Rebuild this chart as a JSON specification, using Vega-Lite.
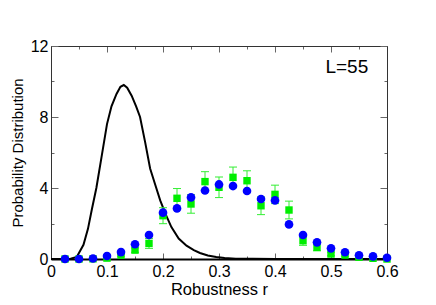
{
  "$schema": "https://vega.github.io/schema/vega-lite/v6.json",
  "width": 336,
  "height": 213,
  "autosize": {"type": "none"},
  "padding": {"left": 51, "top": 46, "right": 49, "bottom": 46},
  "config": {
    "view": {"stroke": null},
    "font": "Liberation Sans",
    "axis": {"grid": false, "labelFont": "Liberation Sans", "titleFont": "Liberation Sans", "labelColor": "black", "titleColor": "black", "titleFontWeight": "normal", "labelFontSize": 16, "titleFontSize": 15, "tickColor": "#666666", "domainColor": "#333333"}
  },
  "datasets": {
    "curve": [
      {"r": 0, "p": 0}, {"r": 0.02, "p": 0}, {"r": 0.035, "p": 0.02}, {"r": 0.046, "p": 0.12},
      {"r": 0.058, "p": 0.8}, {"r": 0.066, "p": 1.7}, {"r": 0.073, "p": 2.8}, {"r": 0.081, "p": 4.0},
      {"r": 0.09, "p": 5.7}, {"r": 0.1, "p": 7.6}, {"r": 0.108, "p": 8.6}, {"r": 0.117, "p": 9.3},
      {"r": 0.124, "p": 9.7}, {"r": 0.13, "p": 9.8}, {"r": 0.136, "p": 9.65}, {"r": 0.144, "p": 9.2},
      {"r": 0.152, "p": 8.6}, {"r": 0.159, "p": 8.0}, {"r": 0.168, "p": 6.6}, {"r": 0.177, "p": 5.1},
      {"r": 0.186, "p": 4.2}, {"r": 0.195, "p": 3.3}, {"r": 0.205, "p": 2.5}, {"r": 0.215, "p": 1.8},
      {"r": 0.228, "p": 1.15}, {"r": 0.242, "p": 0.75}, {"r": 0.255, "p": 0.5}, {"r": 0.266, "p": 0.34},
      {"r": 0.28, "p": 0.2}, {"r": 0.295, "p": 0.11}, {"r": 0.31, "p": 0.05}, {"r": 0.33, "p": 0.02},
      {"r": 0.36, "p": 0.01}, {"r": 0.4, "p": 0}, {"r": 0.6, "p": 0}
    ],
    "pts": [
      {"r": 0.025, "blue": 0.0, "green": 0.0, "lo": 0.0, "hi": 0.0},
      {"r": 0.05, "blue": 0.0, "green": 0.0, "lo": 0.0, "hi": 0.0},
      {"r": 0.075, "blue": 0.03, "green": 0.01, "lo": 0.0, "hi": 0.02},
      {"r": 0.1, "blue": 0.17, "green": 0.05, "lo": 0.02, "hi": 0.08},
      {"r": 0.125, "blue": 0.39, "green": 0.22, "lo": 0.16, "hi": 0.28},
      {"r": 0.15, "blue": 0.83, "green": 0.5, "lo": 0.38, "hi": 0.62},
      {"r": 0.175, "blue": 1.35, "green": 0.88, "lo": 0.6, "hi": 1.16},
      {"r": 0.2, "blue": 2.61, "green": 2.44, "lo": 1.99, "hi": 2.89},
      {"r": 0.225, "blue": 2.85, "green": 3.42, "lo": 2.87, "hi": 3.97},
      {"r": 0.25, "blue": 3.47, "green": 3.1, "lo": 2.58, "hi": 3.62},
      {"r": 0.275, "blue": 3.86, "green": 4.36, "lo": 3.8, "hi": 4.92},
      {"r": 0.3, "blue": 4.2, "green": 4.04, "lo": 3.46, "hi": 4.62},
      {"r": 0.325, "blue": 4.11, "green": 4.6, "lo": 4.02, "hi": 5.18},
      {"r": 0.35, "blue": 3.83, "green": 4.41, "lo": 3.85, "hi": 4.97},
      {"r": 0.375, "blue": 3.38, "green": 3.0, "lo": 2.5, "hi": 3.5},
      {"r": 0.4, "blue": 3.3, "green": 3.64, "lo": 3.12, "hi": 4.16},
      {"r": 0.425, "blue": 1.95, "green": 2.76, "lo": 2.26, "hi": 3.26},
      {"r": 0.45, "blue": 1.35, "green": 1.03, "lo": 0.77, "hi": 1.29},
      {"r": 0.475, "blue": 0.94, "green": 0.66, "lo": 0.46, "hi": 0.86},
      {"r": 0.5, "blue": 0.6, "green": 0.28, "lo": 0.18, "hi": 0.38},
      {"r": 0.525, "blue": 0.38, "green": 0.22, "lo": 0.16, "hi": 0.28},
      {"r": 0.55, "blue": 0.21, "green": 0.1, "lo": 0.06, "hi": 0.14},
      {"r": 0.575, "blue": 0.15, "green": 0.04, "lo": 0.02, "hi": 0.06},
      {"r": 0.6, "blue": 0.07, "green": 0.0, "lo": 0.0, "hi": 0.0}
    ],
    "label": [{"r": 0.49, "v": 10.5, "t": "L=55"}]
  },
  "layer": [
    {
      "data": {"name": "curve"},
      "mark": {"type": "line", "color": "black", "strokeWidth": 2},
      "encoding": {
        "x": {"field": "r", "type": "quantitative", "scale": {"domain": [0, 0.6], "nice": false},
          "axis": {"orient": "bottom", "title": "Robustness r", "titleFontSize": 16.5, "titlePadding": -1, "labelPadding": 10, "values": [0, 0.05, 0.1, 0.15, 0.2, 0.25, 0.3, 0.35, 0.4, 0.45, 0.5, 0.55, 0.6],
            "labelExpr": "round(datum.value*20) % 2 == 0 ? (datum.value == 0 ? '0' : format(datum.value, '.1f')) : ''",
            "tickSize": {"condition": {"test": "round(datum.value*20) % 2 == 0", "value": -6}, "value": -3},
            "domainColor": "black", "domainWidth": 2, "labelFlush": false, "labelOverlap": false}},
        "y": {"field": "p", "type": "quantitative", "scale": {"domain": [0, 12], "nice": false},
          "axis": {"orient": "left", "title": "Probability Distribution", "titlePadding": 5, "labelPadding": 10, "values": [0, 2, 4, 6, 8, 10, 12],
            "labelExpr": "datum.value % 4 == 0 ? datum.label : ''",
            "tickSize": {"condition": {"test": "datum.value % 4 == 0", "value": -7}, "value": -3},
            "labelFlush": false, "labelOverlap": false}}
      }
    },
    {
      "data": {"name": "pts"},
      "mark": {"type": "rule", "color": "#33ee33", "strokeWidth": 1},
      "encoding": {
        "x": {"field": "r", "type": "quantitative", "axis": null},
        "y": {"field": "lo", "type": "quantitative", "axis": null},
        "y2": {"field": "hi"}
      }
    },
    {
      "data": {"name": "pts"},
      "mark": {"type": "tick", "orient": "horizontal", "color": "#33ee33", "size": 8, "thickness": 1, "opacity": 1},
      "encoding": {
        "x": {"field": "r", "type": "quantitative", "axis": null},
        "y": {"field": "lo", "type": "quantitative", "axis": null}
      }
    },
    {
      "data": {"name": "pts"},
      "mark": {"type": "tick", "orient": "horizontal", "color": "#33ee33", "size": 8, "thickness": 1, "opacity": 1},
      "encoding": {
        "x": {"field": "r", "type": "quantitative", "axis": null},
        "y": {"field": "hi", "type": "quantitative", "axis": null}
      }
    },
    {
      "data": {"name": "pts"},
      "mark": {"type": "point", "shape": "square", "filled": true, "color": "#00ee00", "size": 55, "opacity": 1},
      "encoding": {
        "x": {"field": "r", "type": "quantitative", "axis": null},
        "y": {"field": "green", "type": "quantitative", "axis": null}
      }
    },
    {
      "data": {"name": "pts"},
      "mark": {"type": "point", "shape": "circle", "filled": true, "color": "#0000ff", "size": 75, "opacity": 1},
      "encoding": {
        "x": {"field": "r", "type": "quantitative", "axis": null},
        "y": {"field": "blue", "type": "quantitative", "axis": null}
      }
    },
    {
      "data": {"name": "label"},
      "mark": {"type": "text", "align": "left", "baseline": "alphabetic", "fontSize": 19, "font": "Liberation Sans", "color": "black"},
      "encoding": {
        "x": {"field": "r", "type": "quantitative",
          "axis": {"orient": "top", "title": null, "labels": false, "values": [0, 0.05, 0.1, 0.15, 0.2, 0.25, 0.3, 0.35, 0.4, 0.45, 0.5, 0.55, 0.6],
            "tickSize": {"condition": {"test": "round(datum.value*20) % 2 == 0", "value": -6}, "value": -3}}},
        "y": {"field": "v", "type": "quantitative",
          "axis": {"orient": "right", "title": null, "labels": false, "values": [0, 2, 4, 6, 8, 10, 12],
            "tickSize": {"condition": {"test": "datum.value % 4 == 0", "value": -7}, "value": -3}}},
        "text": {"field": "t"}
      }
    }
  ],
  "resolve": {"axis": {"x": "independent", "y": "independent"}}
}
